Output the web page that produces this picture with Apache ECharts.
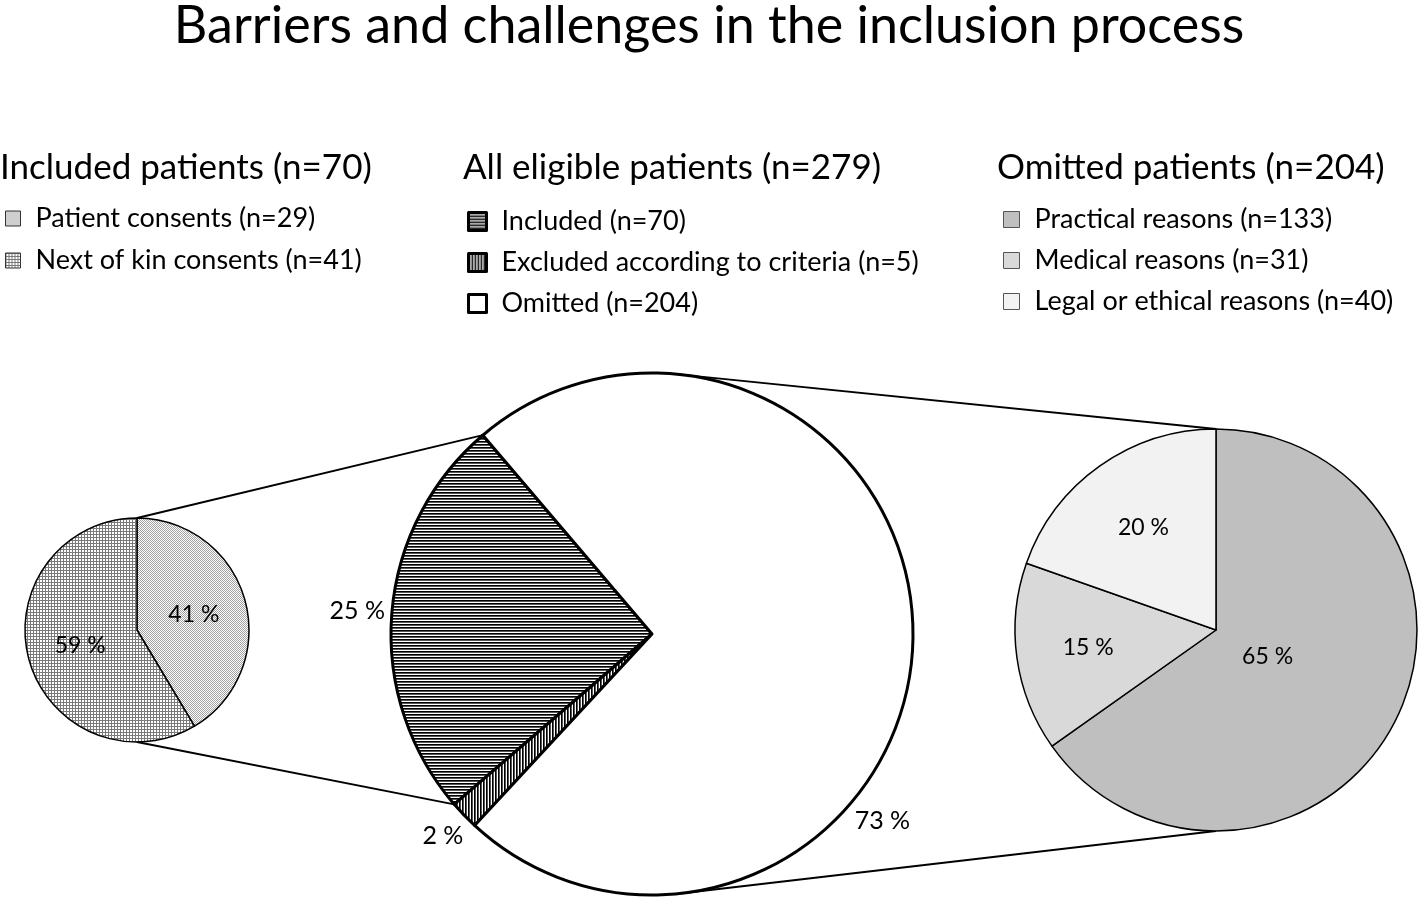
<!DOCTYPE html>
<html>
<head>
<meta charset="utf-8">
<script src="https://cdn.jsdelivr.net/npm/echarts@6/dist/echarts.min.js"></script>
<style>html,body{margin:0;padding:0;background:#fff}#chart{width:1418px;height:900px}</style>
</head>
<body>
<div id="chart"></div>
<script>
// ---- data ----
const chartTitle = 'Barriers and challenges in the inclusion process';
const headers = ['Included patients (n=70)', 'All eligible patients (n=279)', 'Omitted patients (n=204)'];
const includedNames = ['Patient consents (n=29)', 'Next of kin consents (n=41)'];
const includedValues = [29, 41];
const eligibleNames = ['Included (n=70)', 'Excluded according to criteria (n=5)', 'Omitted (n=204)'];
const eligibleValues = [70, 5, 204];
const omittedNames = ['Practical reasons (n=133)', 'Medical reasons (n=31)', 'Legal or ethical reasons (n=40)'];
const omittedValues = [133, 31, 40];

const FONT = 'Lato';

// ---- patterns ----
function pattern(w, h, draw) {
  const c = document.createElement('canvas');
  c.width = w; c.height = h;
  const g = c.getContext('2d');
  g.fillStyle = '#fff'; g.fillRect(0, 0, w, h);
  draw(g);
  return { image: c, repeat: 'repeat' };
}
const patPatient = pattern(2, 2, g => { g.fillStyle = '#a0a0a0'; g.fillRect(0, 0, 1, 1); g.fillRect(1, 1, 1, 1); });
const patKin = pattern(3, 3, g => { g.fillStyle = '#7a7a7a'; g.fillRect(0, 0, 3, 1); g.fillRect(0, 0, 1, 3); });
const patIncluded = pattern(6, 3, g => { g.fillStyle = '#000'; g.fillRect(0, 0, 6, 1); g.fillStyle = '#555'; g.fillRect(0, 1, 6, 1); });
const patExcluded = pattern(3, 6, g => { g.fillStyle = '#000'; g.fillRect(0, 0, 1, 6); g.fillStyle = '#555'; g.fillRect(1, 0, 1, 6); });

const includedColors = [patPatient, patKin];
const eligibleColors = [patIncluded, patExcluded, '#ffffff'];
const omittedColors = ['#bfbfbf', '#d9d9d9', '#f2f2f2'];

const pct = p => Math.round(p.percent) + ' %';

const chart = echarts.init(document.getElementById('chart'), null, { renderer: 'canvas' });

function items(names, values, colors) {
  return names.map((n, i) => ({ name: n, value: values[i], itemStyle: { color: colors[i] } }));
}

const titleStyle = { fontFamily: FONT, fontWeight: 'normal', color: '#000' };
const legendText = { fontFamily: FONT, fontSize: 27, color: '#000', padding: [0, 0, 0, 10] };

// outside labels of the large pie: placed just beyond the rim along the slice direction
function centerLabelLayout(p) {
  const lay = chart.getModel().getSeriesByIndex(1).getData().getItemLayout(p.dataIndex);
  let a;
  if (p.dataIndex === 2) {
    a = Math.PI / 180 * 39; // "best fit" spot used for the large slice
  } else {
    a = (lay.startAngle + lay.endAngle) / 2;
  }
  const w = p.labelRect.width, h = p.labelRect.height;
  const d = lay.r + 6 + Math.abs(Math.cos(a)) * w / 2 + Math.abs(Math.sin(a)) * h / 2;
  return { x: lay.cx + d * Math.cos(a), y: lay.cy + d * Math.sin(a), align: 'center', verticalAlign: 'middle' };
}
// inside labels of the right pie: placed at the centroid of each sector
function centroidLabelLayout(p) {
  const lay = chart.getModel().getSeriesByIndex(2).getData().getItemLayout(p.dataIndex);
  const th = Math.abs(lay.endAngle - lay.startAngle);
  const a = (lay.startAngle + lay.endAngle) / 2;
  const d = 2 * lay.r * Math.sin(th / 2) / (1.5 * th);
  return { x: lay.cx + d * Math.cos(a), y: lay.cy + d * Math.sin(a), align: 'center', verticalAlign: 'middle' };
}

const option = {
  backgroundColor: '#ffffff',
  animation: false,
  title: [
    { text: chartTitle, left: 'center', top: 0, padding: 0, textStyle: Object.assign({ fontSize: 52 }, titleStyle) },
    { text: headers[0], left: 0, top: 150, padding: 0, textStyle: Object.assign({ fontSize: 35 }, titleStyle) },
    { text: headers[1], left: 463, top: 150, padding: 0, textStyle: Object.assign({ fontSize: 35 }, titleStyle) },
    { text: headers[2], left: 997, top: 150, padding: 0, textStyle: Object.assign({ fontSize: 35 }, titleStyle) }
  ],
  legend: [
    { orient: 'vertical', left: 5, top: 205, padding: 0, data: includedNames, icon: 'rect', itemWidth: 15, itemHeight: 15, itemGap: 15,
      selectedMode: false, textStyle: legendText, itemStyle: { borderColor: '#333', borderWidth: 1 } },
    { orient: 'vertical', left: 467, top: 208, padding: 0, data: eligibleNames, icon: 'rect', itemWidth: 18, itemHeight: 18, itemGap: 14,
      selectedMode: false, textStyle: legendText, itemStyle: { borderColor: '#000', borderWidth: 3 } },
    { orient: 'vertical', left: 1003, top: 206, padding: 0, data: omittedNames, icon: 'rect', itemWidth: 16, itemHeight: 16, itemGap: 14,
      selectedMode: false, textStyle: legendText, itemStyle: { borderColor: '#555', borderWidth: 1 } }
  ],
  series: [
    { type: 'pie', name: headers[0], center: [137, 630], radius: 112, startAngle: 90, clockwise: true,
      silent: true, avoidLabelOverlap: false,
      data: items(includedNames, includedValues, includedColors),
      itemStyle: { borderColor: '#000', borderWidth: 1.5 },
      label: { position: 'inside', formatter: pct, fontFamily: FONT, fontSize: 23, color: '#000' },
      labelLine: { show: false }, emphasis: { disabled: true } },
    { type: 'pie', name: headers[1], center: [652, 634], radius: 261, startAngle: 130.4, clockwise: false,
      silent: true, avoidLabelOverlap: false,
      data: items(eligibleNames, eligibleValues, eligibleColors),
      itemStyle: { borderColor: '#000', borderWidth: 3 },
      label: { position: 'outside', formatter: pct, fontFamily: FONT, fontSize: 25, color: '#000' },
      labelLine: { show: false, length: 0, length2: 0 },
      labelLayout: centerLabelLayout,
      emphasis: { disabled: true } },
    { type: 'pie', name: headers[2], center: [1216, 630], radius: 201, startAngle: 90, clockwise: true,
      silent: true, avoidLabelOverlap: false,
      data: items(omittedNames, omittedValues, omittedColors),
      itemStyle: { borderColor: '#000', borderWidth: 1.5 },
      label: { position: 'inside', formatter: pct, fontFamily: FONT, fontSize: 23, color: '#000' },
      labelLine: { show: false },
      labelLayout: centroidLabelLayout,
      emphasis: { disabled: true } }
  ]
};
chart.setOption(option);

// ---- connector lines derived from the pie layouts ----
function tangent(px, py, cx, cy, r, upper) {
  const dx = px - cx, dy = py - cy;
  const d = Math.hypot(dx, dy);
  const base = Math.atan2(dy, dx);
  const off = Math.acos(r / d);
  const a = upper ? base - off : base + off;
  return [cx + r * Math.cos(a), cy + r * Math.sin(a)];
}
const model = chart.getModel();
const L = model.getSeriesByIndex(0).getData().getItemLayout(0);
const inc = model.getSeriesByIndex(1).getData().getItemLayout(0);
const R = model.getSeriesByIndex(2).getData().getItemLayout(0);
const pA = [inc.cx + inc.r * Math.cos(inc.startAngle), inc.cy + inc.r * Math.sin(inc.startAngle)];
const pB = [inc.cx + inc.r * Math.cos(inc.endAngle), inc.cy + inc.r * Math.sin(inc.endAngle)];
const incTop = pA[1] < pB[1] ? pA : pB, incBot = pA[1] < pB[1] ? pB : pA;
const rTop = [R.cx, R.cy - R.r], rBot = [R.cx, R.cy + R.r];
const tTop = tangent(rTop[0], rTop[1], inc.cx, inc.cy, inc.r, true);
const tBot = tangent(rBot[0], rBot[1], inc.cx, inc.cy, inc.r, false);
const segs = [
  [[L.cx, L.cy - L.r], incTop],
  [[L.cx, L.cy + L.r], incBot],
  [tTop, rTop],
  [tBot, rBot]
];
chart.setOption({
  graphic: segs.map(s => ({ type: 'line', z: 1, silent: true,
    shape: { x1: s[0][0], y1: s[0][1], x2: s[1][0], y2: s[1][1] },
    style: { stroke: '#000', lineWidth: 1.8 } }))
});
</script>
</body>
</html>
